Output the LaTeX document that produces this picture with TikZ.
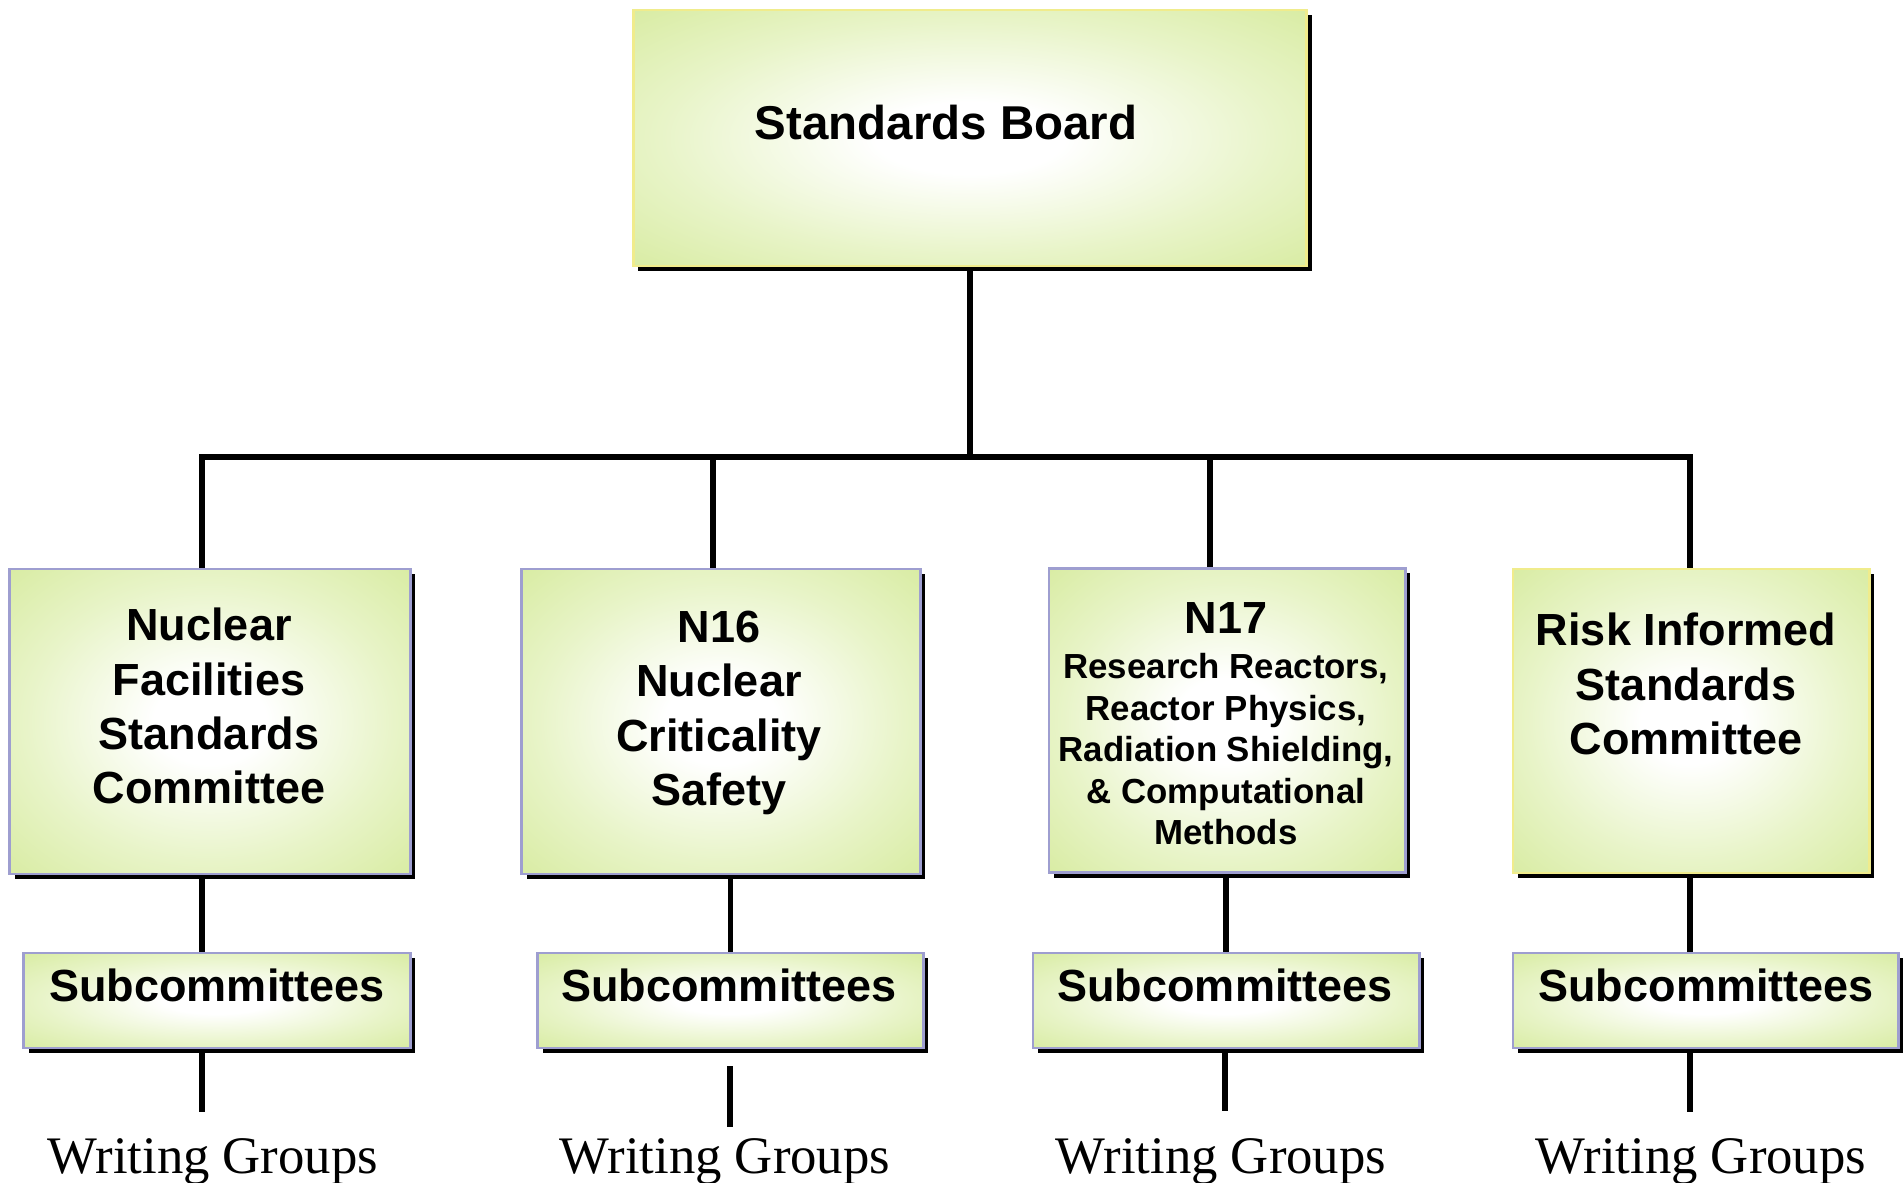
\documentclass[tikz,border=0pt]{standalone}
\usepackage{fontspec}
\setmainfont{Liberation Serif}
\setsansfont{Liberation Sans}
\usetikzlibrary{shadows}
\definecolor{boxgreen}{RGB}{211,233,150}
\definecolor{midgreen}{RGB}{232,244,200}
\definecolor{ylborder}{RGB}{240,236,140}
\definecolor{lvborder}{RGB}{158,158,208}
\pgfdeclareradialshading{glow}{\pgfpoint{0bp}{0bp}}{color(0bp)=(white); color(7bp)=(white); color(23bp)=(midgreen); color(40bp)=(boxgreen); color(50bp)=(boxgreen)}
\newcommand{\smallline}{\fontsize{9.9pt}{11.8pt}\selectfont}
\begin{document}
\begin{tikzpicture}[x=0.01cm, y=-0.01cm,
  box/.style={draw=lvborder, line width=0.8pt, shade, shading=glow, inner sep=0pt,
    drop shadow={shadow xshift=0.05cm, shadow yshift=-0.05cm, fill=black, opacity=1}},
  ybox/.style={box, draw=ylborder},
  btxt/.style={font=\sffamily\bfseries\fontsize{12.8pt}{15.4pt}\selectfont, align=center, inner sep=0pt},
  ntxt/.style={font=\sffamily\bfseries\fontsize{9.9pt}{11.8pt}\selectfont, align=center, inner sep=0pt},
  wtxt/.style={font=\rmfamily\fontsize{15pt}{18pt}\selectfont, inner sep=0pt, anchor=base},
  conn/.style={line width=1.6pt}]
\useasboundingbox (0,0) rectangle (1904,1183);

% boxes
\node[ybox, minimum width=6.73cm, minimum height=2.56cm] (top) at (970,138) {};
\node[box, minimum width=4.00cm, minimum height=3.05cm] (b1) at (210,721.5) {};
\node[box, minimum width=3.98cm, minimum height=3.05cm] (b2) at (721,721.5) {};
\node[box, minimum width=3.56cm, minimum height=3.04cm] (b3) at (1227,720.5) {};
\node[ybox, minimum width=3.56cm, minimum height=3.04cm] (b4) at (1691,721) {};
\node[box, minimum width=3.86cm, minimum height=0.95cm] (s1) at (217,1000.5) {};
\node[box, minimum width=3.85cm, minimum height=0.95cm] (s2) at (730.5,1000.5) {};
\node[box, minimum width=3.86cm, minimum height=0.95cm] (s3) at (1226,1000.5) {};
\node[box, minimum width=3.85cm, minimum height=0.95cm] (s4) at (1705.5,1000.5) {};

% texts
\node[btxt, font=\sffamily\bfseries\fontsize{13.5pt}{16pt}\selectfont] (tt) at (946,123) {Standards Board};
\node[btxt] (t1) at (209,706) {Nuclear\\Facilities\\Standards\\Committee};
\node[btxt] (t2) at (719,713) {N16\\Nuclear\\Criticality\\Safety};
\node[ntxt] (t3) at (1226,724) {{\fontsize{12.8pt}{15pt}\selectfont N17}\\[1pt]
  \smallline Research Reactors,\\ \smallline Reactor Physics,\\ \smallline Radiation Shielding,\\
  \smallline \& Computational\\ \smallline Methods};
\node[btxt] (t4) at (1686,684) {Risk Informed\\Standards\\Committee};
\node[btxt] (u1) at (217,985) {Subcommittees};
\node[btxt] (u2) at (729,985) {Subcommittees};
\node[btxt] (u3) at (1225,985) {Subcommittees};
\node[btxt] (u4) at (1706,985) {Subcommittees};
\node[wtxt] (w1) at (213,1173) {Writing Groups};
\node[wtxt] (w2) at (725,1173) {Writing Groups};
\node[wtxt] (w3) at (1221,1173) {Writing Groups};
\node[wtxt] (w4) at (1701,1173) {Writing Groups};

% junction coordinates
\coordinate (j1) at (202,457);
\coordinate (j2) at (713,457);
\coordinate (j3) at (1210,457);
\coordinate (j4) at (1690,457);
\coordinate (e1) at (202,1112);
\coordinate (f2) at (730,1066);
\coordinate (e2) at (730,1127);
\coordinate (e3) at (1225,1111);
\coordinate (e4) at (1690,1112);

% connectors
\draw[conn] (top.south) -- (top.south |- j1);
\draw[conn] (b1.north -| j1) -- (j1) -- (j4) -- (b4.north -| j4);
\draw[conn] (j2) -- (b2.north -| j2);
\draw[conn] (j3) -- (b3.north -| j3);
\draw[conn] (b1.south -| j1) -- (s1.north -| j1);
\draw[conn] (b2.south -| s2.center) -- (s2.north);
\draw[conn] (b3.south -| s3.center) -- (s3.north);
\draw[conn] (b4.south -| j4) -- (s4.north -| j4);
\draw[conn] (s1.south -| e1) -- (e1);
\draw[conn] (f2) -- (e2);
\draw[conn] (s3.south -| e3) -- (e3);
\draw[conn] (s4.south -| e4) -- (e4);
\end{tikzpicture}
\end{document}
